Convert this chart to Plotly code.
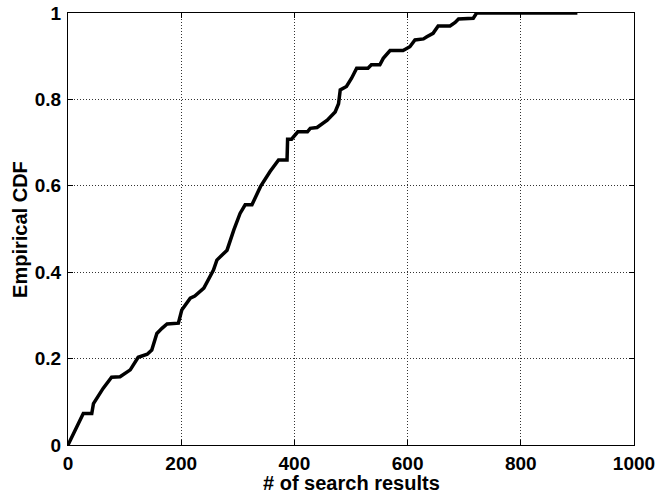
import plotly.graph_objects as go

# traced empirical CDF (x = # of search results, y = cumulative fraction)
x_vals = [0, 27, 42, 45, 62, 77, 92, 110, 124, 140, 148, 157, 166, 175, 195, 201, 216, 224,
          240, 251, 257, 263, 281, 293, 304, 313, 325, 340, 357, 372, 387, 388, 395, 406,
          423, 428, 440, 458, 472, 478, 481, 492, 501, 510, 530, 536, 551, 557, 569,
          592, 604, 613, 628, 634, 645, 654, 675, 684, 690, 716, 720, 722, 900]
cdf_vals = [0.0, 0.073, 0.073, 0.096, 0.131, 0.157, 0.158, 0.174, 0.203, 0.21, 0.22, 0.258,
            0.27, 0.28, 0.282, 0.3125, 0.34, 0.345, 0.363, 0.39, 0.405, 0.428, 0.451, 0.498,
            0.536, 0.556, 0.556, 0.598, 0.633, 0.66, 0.66, 0.708, 0.708, 0.725, 0.725, 0.733,
            0.735, 0.752, 0.771, 0.79, 0.822, 0.83, 0.849, 0.872, 0.872, 0.88, 0.88, 0.895,
            0.913, 0.913, 0.922, 0.9375, 0.94, 0.945, 0.953, 0.97, 0.97, 0.978, 0.986, 0.988,
            0.997, 1.0, 1.0]

x_ticks = [0, 200, 400, 600, 800, 1000]
y_ticks = [0, 0.2, 0.4, 0.6, 0.8, 1]
y_ticktext = ["0", "0.2", "0.4", "0.6", "0.8", "1"]
x_title = "# of search results"
y_title = "Empirical CDF"

font_bold = dict(family="Liberation Sans, Arial, sans-serif", size=19, color="black", weight="bold")
title_font = dict(family="Liberation Sans, Arial, sans-serif", size=20, color="black", weight="bold")

fig = go.Figure()
fig.add_trace(go.Scatter(x=x_vals, y=cdf_vals, mode="lines",
                         line=dict(color="black", width=3.5), cliponaxis=False,
                         showlegend=False, hoverinfo="skip"))

axis_common = dict(showline=True, linecolor="black", linewidth=1, mirror="ticks",
                   ticks="inside", ticklen=5, tickcolor="black", tickwidth=1,
                   showgrid=True, gridcolor="#333333", gridwidth=1, griddash="1px,2px",
                   zeroline=False, tickfont=font_bold, automargin=False)

fig.update_xaxes(range=[0, 1000], tickvals=x_ticks, ticklabelstandoff=1, **axis_common)
fig.update_yaxes(range=[0, 1], tickvals=y_ticks, ticktext=y_ticktext, ticklabelstandoff=2,
                 **axis_common)

fig.add_annotation(text=x_title, xref="paper", yref="paper", x=0.5, y=-0.088,
                   xanchor="center", yanchor="middle", showarrow=False, font=title_font)
fig.add_annotation(text=y_title, xref="paper", yref="paper", x=-0.085, y=0.5,
                   xanchor="center", yanchor="middle", textangle=-90, showarrow=False,
                   font=title_font)

fig.update_layout(width=656, height=496, margin=dict(l=68, r=22, t=13, b=51),
                  plot_bgcolor="white", paper_bgcolor="white")

fig.write_html("out.html", config={"displayModeBar": False},
               post_script="document.body.style.margin='0';document.body.style.overflow='hidden';")
